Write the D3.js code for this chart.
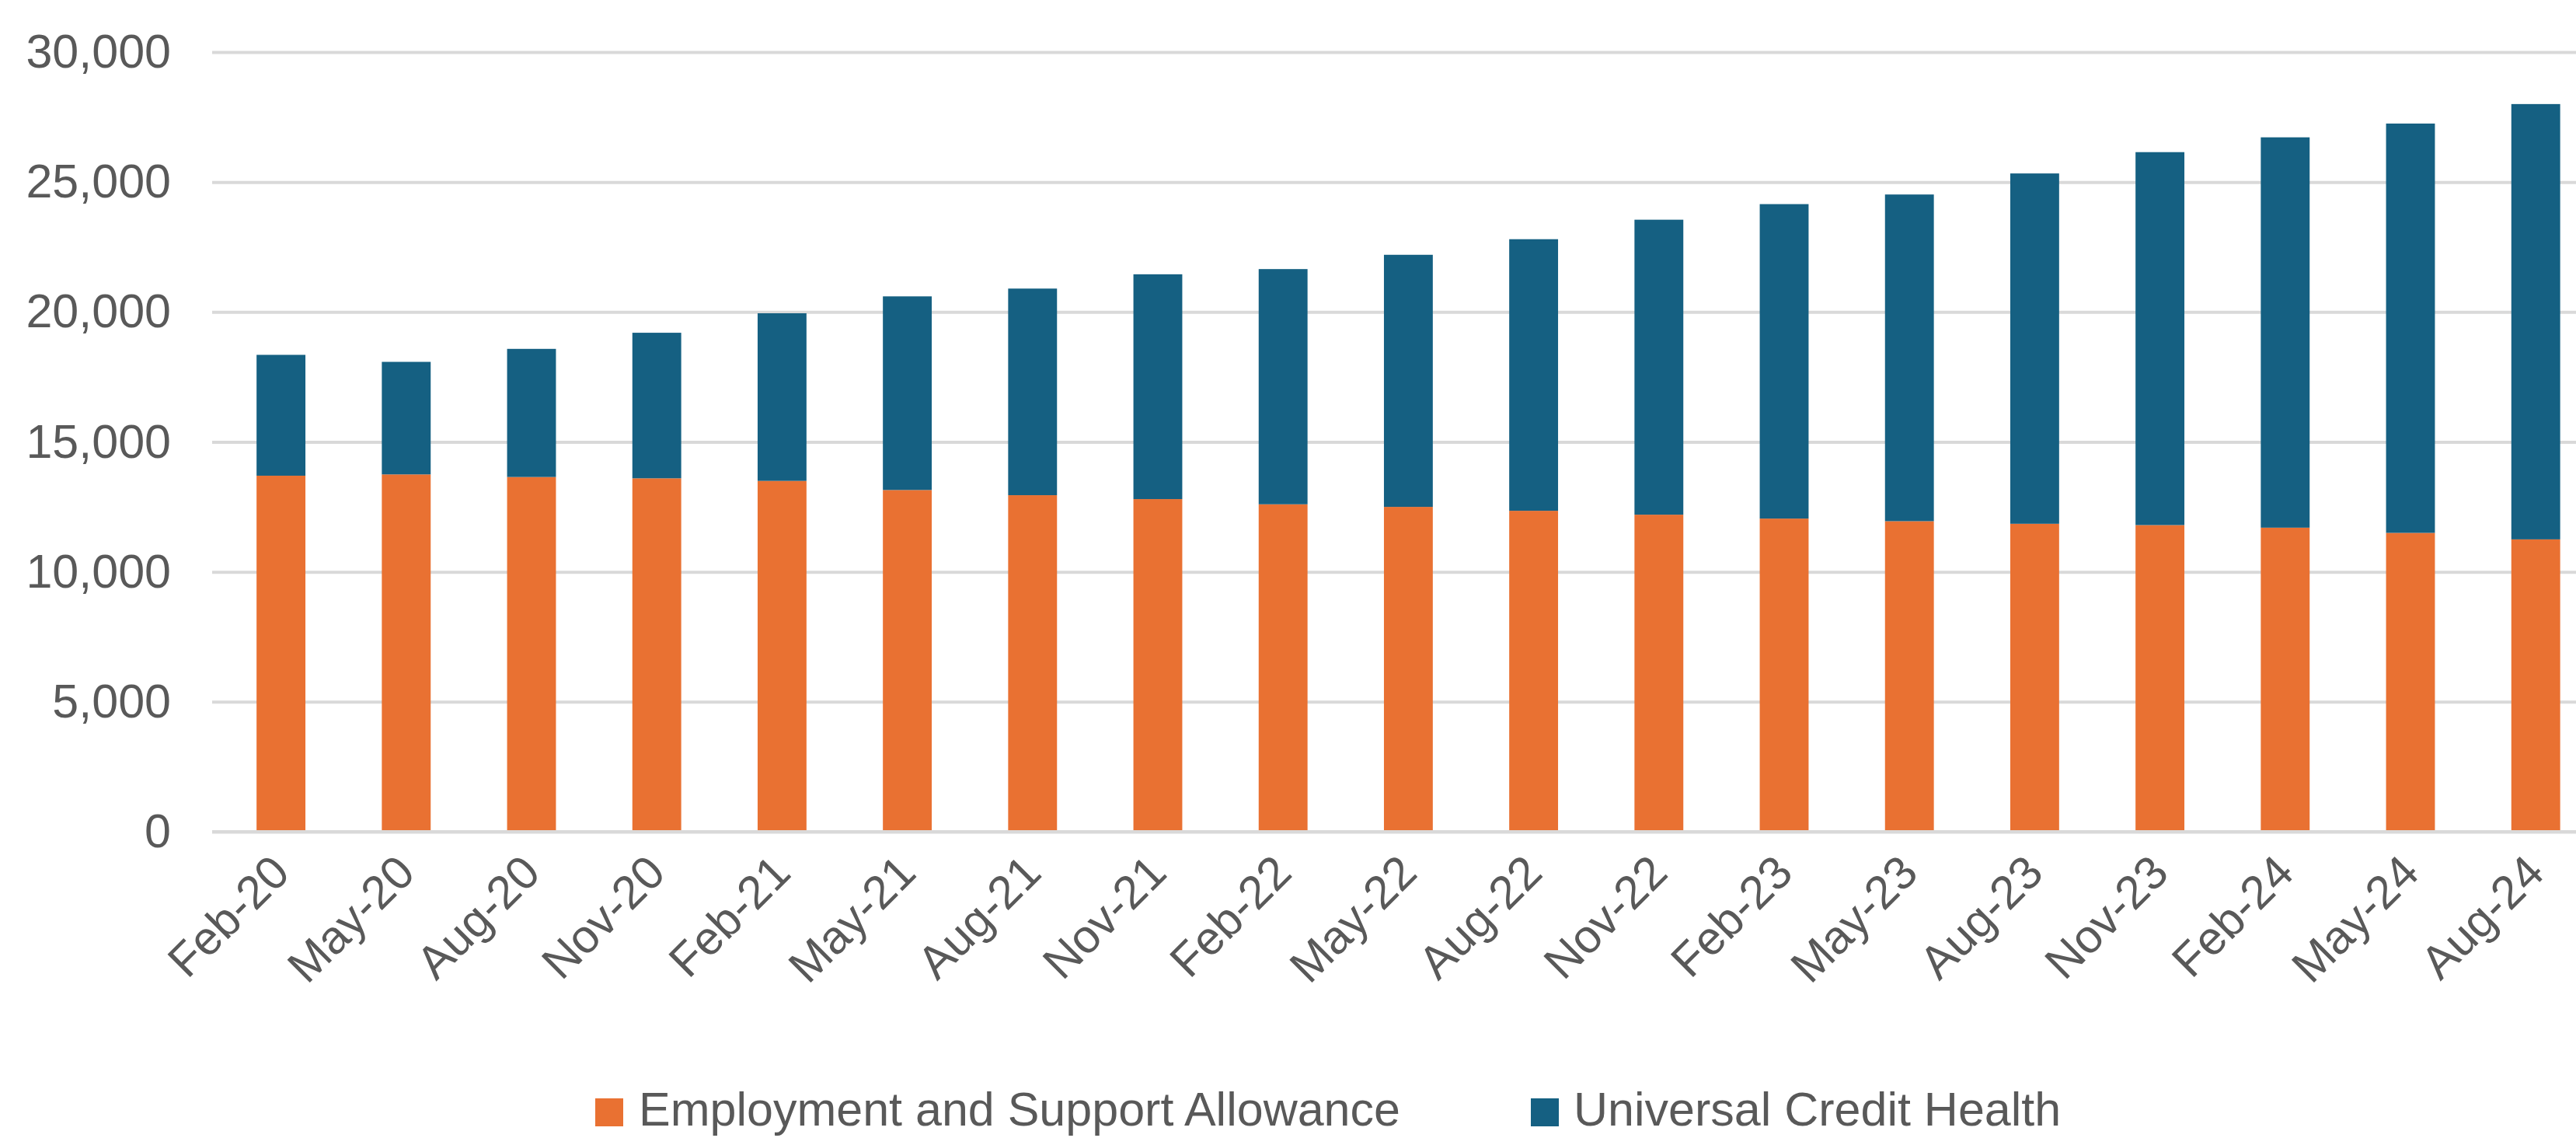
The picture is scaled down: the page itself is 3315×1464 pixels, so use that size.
<!DOCTYPE html>
<html>
<head>
<meta charset="utf-8">
<script src="https://cdn.jsdelivr.net/npm/d3@7"></script>
<style>
  html, body { margin: 0; padding: 0; background: #ffffff; }
  svg { display: block; }
  text { font-family: "Liberation Sans", Arial, sans-serif; fill: #595959; }
</style>
</head>
<body>
<svg id="chart" width="3315" height="1464"></svg>
<script>
// Quarterly caseload, stacked by benefit type
const categories = ["Feb-20","May-20","Aug-20","Nov-20","Feb-21","May-21","Aug-21","Nov-21",
  "Feb-22","May-22","Aug-22","Nov-22","Feb-23","May-23","Aug-23","Nov-23","Feb-24","May-24","Aug-24"];

const esaValues = [13700, 13750, 13650, 13600, 13500, 13150, 12950, 12800, 12600, 12500,
  12350, 12200, 12050, 11950, 11850, 11800, 11700, 11500, 11250];

const ucHealthValues = [4650, 4330, 4930, 5600, 6450, 7450, 7950, 8650, 9050, 9700,
  10450, 11350, 12100, 12570, 13480, 14350, 15020, 15750, 16750];

const seriesNames = ["Employment and Support Allowance", "Universal Credit Health"];
const seriesColors = ["#E97132", "#156082"];
const yTicks = [0, 5000, 10000, 15000, 20000, 25000, 30000];

const W = 3315, H = 1464;
const svg = d3.select("#chart");

const plotLeft = 273, plotRight = W;
const x = d3.scaleBand()
  .domain(categories)
  .range([281, 281 + 19 * 161.2])
  .paddingInner(0.61)
  .paddingOuter(0.305);

const y = d3.scaleLinear().domain([0, 30000]).range([1070, 67]);

// Gridlines
const grid = svg.append("g")
  .attr("transform", `translate(${plotLeft},0)`)
  .call(d3.axisLeft(y).tickValues(yTicks).tickSize(-(plotRight - plotLeft)).tickFormat(""));
grid.select(".domain").remove();
grid.selectAll(".tick line").attr("stroke", "#d9d9d9").attr("stroke-width", 4);

// Y axis labels
const yAxis = svg.append("g")
  .attr("transform", `translate(${plotLeft},0)`)
  .call(d3.axisLeft(y).tickValues(yTicks).tickSize(0).tickPadding(53).tickFormat(d3.format(",")));
yAxis.select(".domain").remove();
yAxis.selectAll(".tick text")
  .style("font-size", "61px")
  .style("fill", "#595959");

// Stacked bars
const rows = categories.map((c, i) => ({ cat: c, esa: esaValues[i], uc: ucHealthValues[i] }));
const stack = d3.stack().keys(["esa", "uc"]);
const layers = stack(rows);

svg.append("g").selectAll("g")
  .data(layers)
  .join("g")
  .attr("fill", (d, i) => seriesColors[i])
  .selectAll("rect")
  .data(d => d)
  .join("rect")
  .attr("x", d => x(d.data.cat))
  .attr("width", x.bandwidth())
  .attr("y", d => y(d[1]))
  .attr("height", d => y(d[0]) - y(d[1]));

// Baseline
svg.append("line")
  .attr("x1", plotLeft).attr("x2", plotRight)
  .attr("y1", y(0)).attr("y2", y(0))
  .attr("stroke", "#d9d9d9").attr("stroke-width", 4);

// X axis labels
const xAxis = svg.append("g")
  .attr("transform", `translate(0,${y(0)})`)
  .call(d3.axisBottom(x).tickSize(0));
xAxis.select(".domain").remove();
xAxis.selectAll(".tick text")
  .attr("y", 0).attr("dy", 0)
  .attr("transform", "translate(14,56) rotate(-45)")
  .style("text-anchor", "end")
  .style("font-size", "60px")
  .style("fill", "#595959");

// Legend
const legendItems = [
  { name: seriesNames[0], color: seriesColors[0], sx: 766, tx: 822 },
  { name: seriesNames[1], color: seriesColors[1], sx: 1970, tx: 2025 }
];
const legend = svg.append("g");
legend.selectAll("rect")
  .data(legendItems)
  .join("rect")
  .attr("x", d => d.sx).attr("y", 1413)
  .attr("width", 36).attr("height", 36)
  .attr("fill", d => d.color);
legend.selectAll("text")
  .data(legendItems)
  .join("text")
  .attr("x", d => d.tx).attr("y", 1448)
  .style("font-size", "61px")
  .style("fill", "#595959")
  .text(d => d.name);
</script>
</body>
</html>
